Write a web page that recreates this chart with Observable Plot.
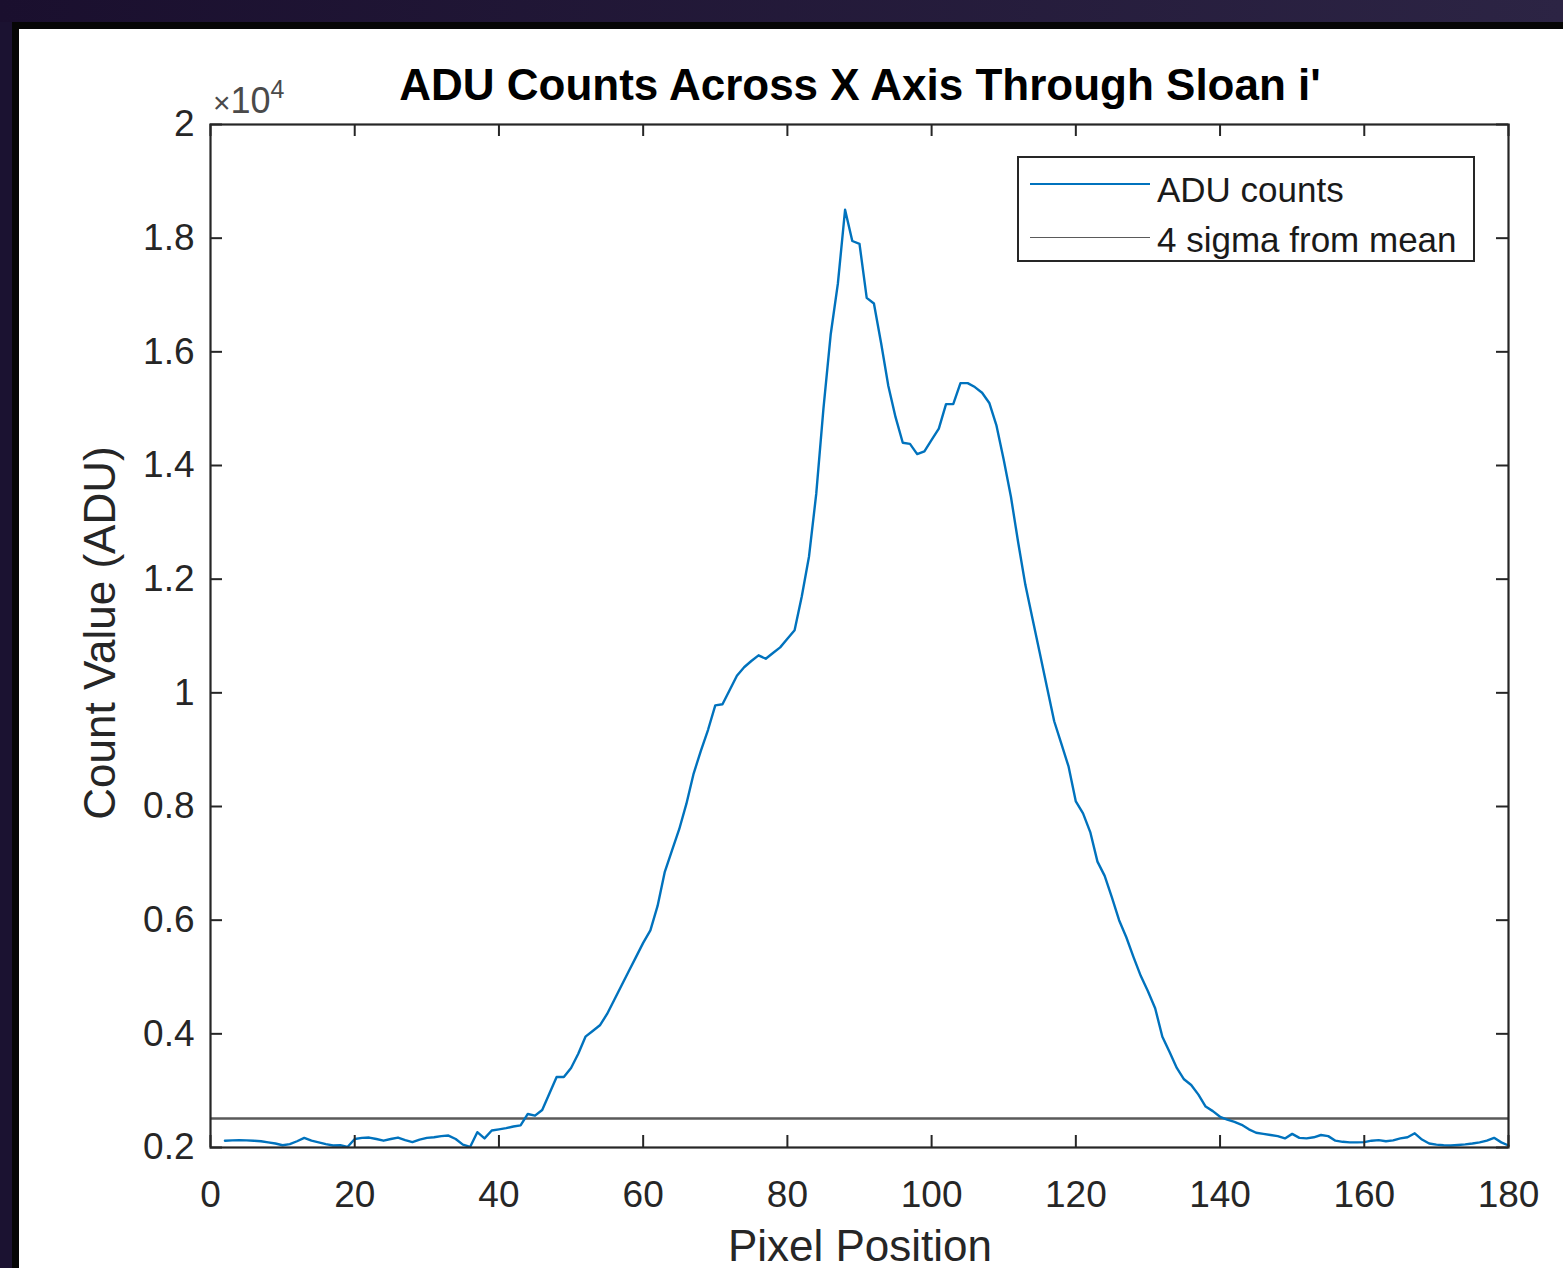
<!DOCTYPE html>
<html>
<head>
<meta charset="utf-8">
<script src="https://cdn.jsdelivr.net/npm/d3@7"></script>
<script src="https://cdn.jsdelivr.net/npm/@observablehq/plot@0.6"></script>
<style>
  html, body { margin: 0; padding: 0; width: 1563px; height: 1268px; overflow: hidden; background: #1b1231; font-family: "Liberation Sans", Arial, Helvetica, sans-serif; }
  #bgtop { position: absolute; left: 0; top: 0; width: 1563px; height: 22px; background: linear-gradient(90deg, #1a0f2e, #2c2444); }
  #panel { position: absolute; left: 12px; top: 22px; width: 1551px; height: 1246px; background: #fff; border-left: 7px solid #060606; border-top: 7px solid #060606; box-sizing: border-box; }
  #chart { position: absolute; left: 0; top: 0; }
  .lbl { position: absolute; line-height: 1; white-space: nowrap; color: #262626; }
  #title { left: 360px; width: 1000px; top: 63px; text-align: center; font-weight: bold; font-size: 44px; color: #000; }
  #expo { left: 213px; top: 83px; font-size: 36px; color: #4a4a4a; }
  #expo .x { font-size: 30px; }
  #expo sup { font-size: 25px; position: relative; top: -6px; vertical-align: top; }
  #xlabel { left: 360px; width: 1000px; top: 1224px; text-align: center; font-size: 44px; }
  #ylabel { left: -150px; width: 500px; top: 611px; text-align: center; font-size: 44px; transform: rotate(-90deg); transform-origin: 250px 22px; }
  #legend { position: absolute; left: 1017px; top: 156px; width: 458px; height: 106px; border: 2px solid #262626; background: #fff; box-sizing: border-box; }
  .lg-line { position: absolute; height: 0; }
  .lg-text { position: absolute; font-size: 35px; line-height: 1; color: #1a1a1a; white-space: nowrap; }
</style>
</head>
<body>
<div id="bgtop"></div>
<div id="panel"></div>
<div id="chart"></div>
<div class="lbl" id="title">ADU Counts Across X Axis Through Sloan i'</div>
<div class="lbl" id="expo"><span class="x">×</span>10<sup>4</sup></div>
<div class="lbl" id="xlabel">Pixel Position</div>
<div class="lbl" id="ylabel">Count Value (ADU)</div>
<div id="legend"></div>
<script>
// ---- data ----
const pixelStart = 2; // first pixel position of the ADU profile
const aduCounts = [
  2120,2125,2130,2125,2120,2110,2090,2070,2040,2060,
  2110,2170,2120,2090,2060,2035,2040,2010,2150,2170,
  2175,2150,2120,2150,2175,2130,2095,2140,2170,2180,
  2200,2210,2150,2050,2010,2270,2160,2300,2320,2340,
  2370,2390,2590,2560,2660,2950,3240,3240,3400,3650,
  3950,4050,4150,4350,4600,4850,5100,5350,5600,5820,
  6250,6850,7230,7600,8050,8580,8980,9350,9780,9800,
  10050,10300,10450,10560,10660,10600,10700,10800,10950,11100,
  11700,12400,13500,15000,16300,17200,18500,17950,17900,16950,
  16850,16150,15400,14850,14400,14380,14200,14250,14450,14650,
  15080,15080,15450,15450,15380,15280,15100,14700,14100,13450,
  12650,11900,11300,10700,10100,9500,9100,8700,8090,7880,
  7550,7030,6780,6400,6000,5700,5350,5020,4750,4450,
  3950,3680,3400,3200,3100,2930,2720,2640,2540,2490,
  2450,2400,2320,2260,2240,2220,2200,2160,2240,2170,
  2160,2180,2220,2200,2120,2100,2090,2090,2095,2120,
  2130,2110,2125,2160,2180,2250,2140,2070,2050,2040,
  2035,2045,2055,2070,2090,2120,2170,2090,2035
];
const sigmaThreshold = [2510];
const xTicks = [0, 20, 40, 60, 80, 100, 120, 140, 160, 180];
const yTicks = [2000, 4000, 6000, 8000, 10000, 12000, 14000, 16000, 18000, 20000];
const seriesNames = ["ADU counts", "4 sigma from mean"];
const seriesColors = ["#0072BD", "#5a5a5a"];

const profile = aduCounts.map((v, i) => ({pixel: pixelStart + i, count: v}));

const W = 1563, H = 1268;
const mL = 210, mR = 55, mT = 124, mB = 121;
const plotW = W - mL - mR, plotH = H - mT - mB;
const tickLen = 12;
const axisColor = "#262626";

const chart = Plot.plot({
  width: W, height: H,
  marginLeft: mL, marginRight: mR, marginTop: mT, marginBottom: mB,
  style: {background: "transparent", fontFamily: '"Liberation Sans", Arial, Helvetica, sans-serif', fontSize: "37px", color: axisColor},
  x: {domain: [0, 180]},
  y: {domain: [2000, 20000]},
  marks: [
    Plot.ruleY(sigmaThreshold, {y: d => d, stroke: seriesColors[1], strokeWidth: 2.5}),
    Plot.line(profile, {x: "pixel", y: "count", stroke: seriesColors[0], strokeWidth: 2.4}),
    Plot.ruleX(xTicks, {x: d => d, insetTop: plotH - tickLen, stroke: axisColor, strokeWidth: 2}),
    Plot.ruleX(xTicks, {x: d => d, insetBottom: plotH - tickLen, stroke: axisColor, strokeWidth: 2}),
    Plot.ruleY(yTicks, {y: d => d, insetRight: plotW - tickLen, stroke: axisColor, strokeWidth: 2}),
    Plot.ruleY(yTicks, {y: d => d, insetLeft: plotW - tickLen, stroke: axisColor, strokeWidth: 2}),
    Plot.frame({stroke: axisColor, strokeWidth: 2.2}),
    Plot.axisX({ticks: xTicks, tickSize: 0, tickPadding: 33, label: null, fill: axisColor}),
    Plot.axisY({ticks: yTicks, tickSize: 0, tickPadding: 16, label: null, fill: axisColor,
      tickFormat: d => String(+(d / 1e4).toFixed(1))})
  ]
});
document.getElementById("chart").appendChild(chart);

// legend
const legend = document.getElementById("legend");
const rows = [{lineY: 25, textTop: 14}, {lineY: 79, textTop: 64}];
seriesNames.forEach((name, i) => {
  const ln = document.createElement("div");
  ln.className = "lg-line";
  ln.style.left = "11px";
  ln.style.width = "120px";
  ln.style.top = (rows[i].lineY) + "px";
  ln.style.borderTop = (i === 0 ? 2 : 1.6) + "px solid " + seriesColors[i];
  legend.appendChild(ln);
  const tx = document.createElement("div");
  tx.className = "lg-text";
  tx.style.left = "138px";
  tx.style.top = rows[i].textTop + "px";
  tx.textContent = name;
  legend.appendChild(tx);
});
</script>
</body>
</html>
